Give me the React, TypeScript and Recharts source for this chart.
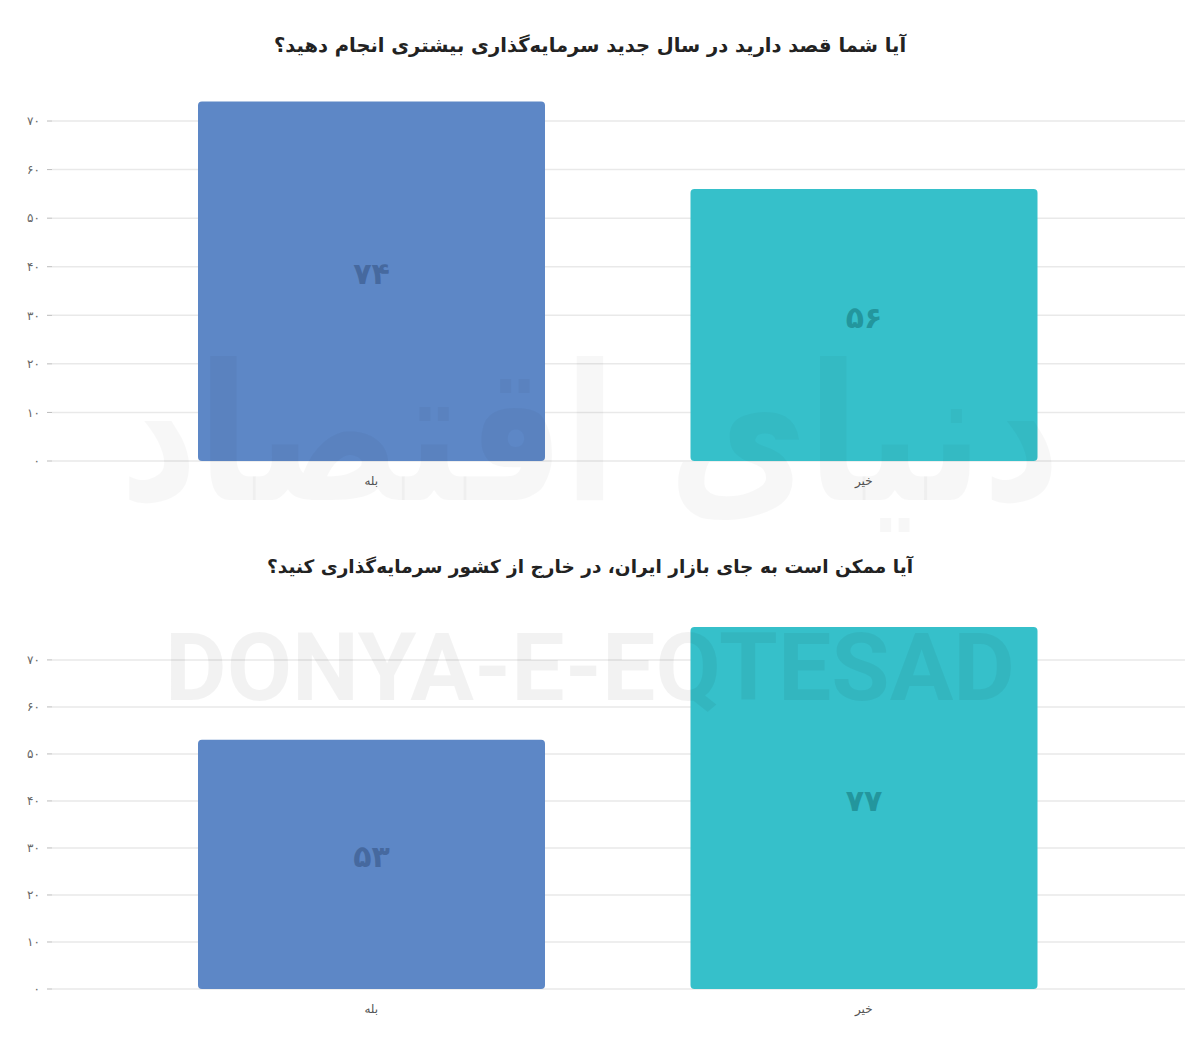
import React from 'react';
import { BarChart, Bar, XAxis, YAxis, CartesianGrid, Cell, LabelList } from 'recharts';

const categories = ['بله', 'خیر'];
const q1Values = [74, 56];
const q2Values = [53, 77];
const yTicks = [0, 10, 20, 30, 40, 50, 60, 70];

const q1Title = 'آیا شما قصد دارید در سال جدید سرمایه‌گذاری بیشتری انجام دهید؟';
const q2Title = 'آیا ممکن است به جای بازار ایران، در خارج از کشور سرمایه‌گذاری کنید؟';

const barColors = ['#5d87c6', '#36c0ca'];
const labelColors = ['#46699f', '#23969d'];

const faFont = '"DejaVu Sans", sans-serif';

const toFa = (v: number | string) =>
    String(v).replace(/[0-9]/g, (d) => '۰۱۲۳۴۵۶۷۸۹'[Number(d)]);

const BarValue = (props: any) => {
    const { x, y, width, height, value, index } = props;
    return (
        <text
            x={x + width / 2}
            y={y + height / 2 - 6}
            textAnchor="middle"
            dominantBaseline="middle"
            fontFamily={faFont}
            fontWeight="bold"
            fontSize={30}
            fill={labelColors[index % labelColors.length]}
        >
            {toFa(value)}
        </text>
    );
};

interface QuestionChartProps {
    values: number[];
    top: number;
    marginTop: number;
    plotHeight: number;
}

const QuestionChart: React.FC<QuestionChartProps> = ({ values, top, marginTop, plotHeight }) => {
    const data = categories.map((name, i) => ({ name, value: values[i] }));
    const height = marginTop + plotHeight + 30;
    return (
        <div style={{ position: 'absolute', left: 0, top }}>
            <BarChart
                width={1200}
                height={height}
                data={data}
                margin={{ top: marginTop, right: 15, bottom: 0, left: 0 }}
                barCategoryGap={0}
            >
                <CartesianGrid
                    vertical={false}
                    horizontalValues={yTicks}
                    syncWithTicks
                    stroke="#e9e9e9"
                    strokeWidth={1.5}
                />
                <XAxis
                    dataKey="name"
                    height={30}
                    axisLine={false}
                    tickLine={false}
                    padding={{ left: 73, right: 75 }}
                    tick={{ fontFamily: faFont, fontSize: 12, fill: '#555' }}
                    tickMargin={9}
                />
                <YAxis
                    width={52}
                    type="number"
                    domain={[0, Math.max(...values)]}
                    ticks={yTicks}
                    axisLine={false}
                    tickSize={5}
                    tickMargin={7}
                    tickLine={{ stroke: '#bbb' }}
                    tickFormatter={toFa}
                    tick={{ fontFamily: faFont, fontSize: 12, fill: '#666' }}
                />
                <Bar dataKey="value" barSize={347} radius={[4, 4, 4, 4]} isAnimationActive={false}>
                    {data.map((_, i) => (
                        <Cell key={i} fill={barColors[i % barColors.length]} />
                    ))}
                    <LabelList dataKey="value" content={BarValue} />
                </Bar>
            </BarChart>
        </div>
    );
};

const titleStyle: React.CSSProperties = {
    position: 'absolute',
    left: 0,
    width: 1180,
    textAlign: 'center',
    direction: 'rtl',
    fontFamily: faFont,
    fontWeight: 'bold',
    color: '#222',
};

export default function App() {
    return (
        <div style={{ position: 'relative', width: 1200, height: 1055, margin: -8, background: '#fff', overflow: 'hidden' }}>
            <svg width={1200} height={1055} style={{ position: 'absolute', left: 0, top: 0, pointerEvents: 'none', zIndex: 2 }}>
                <text
                    x={590}
                    y={500}
                    textAnchor="middle"
                    fontFamily={faFont}
                    fontWeight="bold"
                    fontSize={190}
                    fill="#000"
                    fillOpacity={0.03}
                    direction="rtl"
                    textLength={940}
                    lengthAdjust="spacingAndGlyphs"
                >
                    دنیای اقتصاد
                </text>
                <text
                    x={590}
                    y={700}
                    textAnchor="middle"
                    fontFamily="Roboto, sans-serif"
                    fontWeight="bold"
                    fontSize={94}
                    fill="#000"
                    fillOpacity={0.05}
                    textLength={850}
                    lengthAdjust="spacingAndGlyphs"
                >
                    DONYA-E-EQTESAD
                </text>
            </svg>
            <div style={{ ...titleStyle, top: 34, fontSize: 19.5 }}>{q1Title}</div>
            <QuestionChart values={q1Values} top={0} marginTop={101.6} plotHeight={359.4} />
            <div style={{ ...titleStyle, top: 556, fontSize: 18.5 }}>{q2Title}</div>
            <QuestionChart values={q2Values} top={527} marginTop={100} plotHeight={362} />
        </div>
    );
}
